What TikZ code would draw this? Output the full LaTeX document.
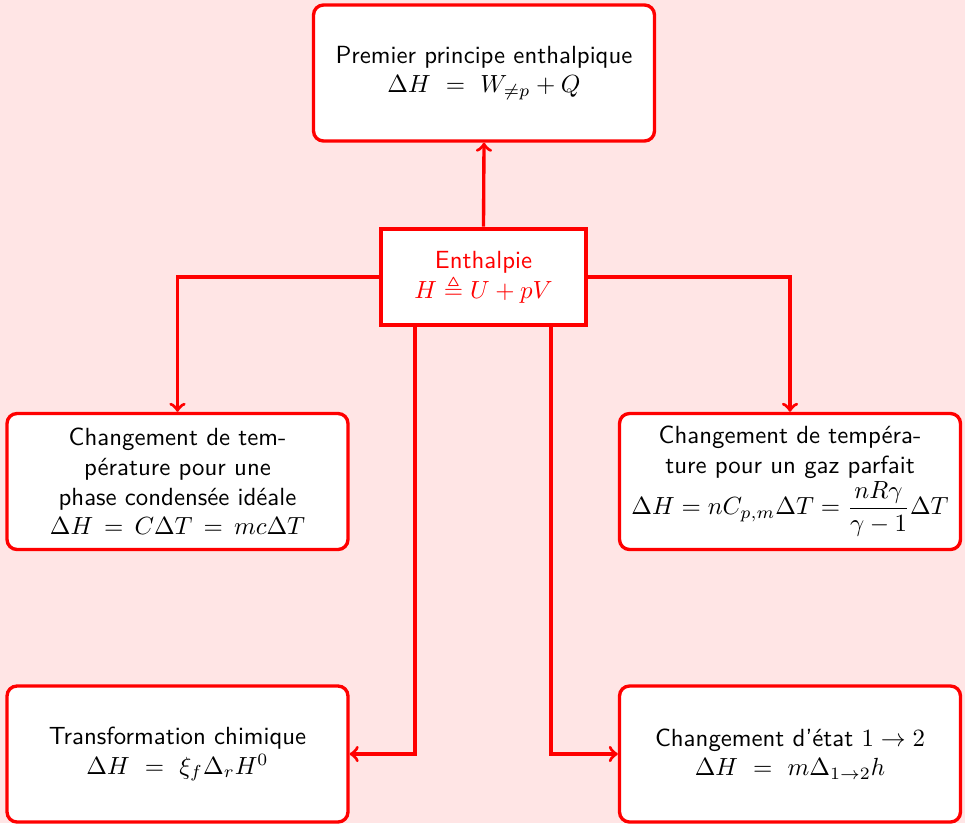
\documentclass[tikz,border=0pt]{standalone}
\usepackage{amsmath,amssymb}
\usetikzlibrary{calc}
\begin{document}
\begin{tikzpicture}[x=0.403pt,y=-0.403pt,
  box/.style={draw=red,fill=white,line width=1.35pt,rounded corners=4pt,
    align=center,font=\sffamily,minimum width=137.4pt,minimum height=54.8pt,inner sep=0pt},
  mainbox/.style={draw=red,fill=white,line width=1.9pt,align=center,font=\sffamily,
    text=red,minimum width=82.6pt,minimum height=38.7pt,inner sep=0pt},
  arr/.style={draw=red,line width=1.35pt,->}]
\fill[red!10] (0,0) rectangle (965,823);
\useasboundingbox (0,0) rectangle (965,823);
\node[box] (top) at (484,73) {Premier principe enthalpique\\$\Delta H\ =\ W_{\neq p}+Q$};
\node[mainbox] (enth) at (483.5,277) {Enthalpie\\$H\triangleq U+pV$};
\node[box] (lm) at (177.5,481.5) {Changement de tem-\\pérature pour une\\phase condensée idéale\\$\Delta H\,=\,C\Delta T\,=\,mc\Delta T$};
\node[box] (rm) at (790,481.5) {Changement de tempéra-\\ture pour un gaz parfait\\$\Delta H=nC_{p,m}\Delta T=\dfrac{nR\gamma}{\gamma-1}\Delta T$};
\node[box] (bl) at (177.5,754) {Transformation chimique\\$\Delta H\ =\ \xi_f\Delta_r H^0$};
\node[box] (br) at (790,754) {Changement d’état $1\to2$\\$\Delta H\ =\ m\Delta_{1\to2}h$};
\draw[arr] (enth.north) -- (top.south);
\draw[arr] (enth.west) -| (lm.north);
\draw[arr] (enth.east) -| (rm.north);
\draw[arr] ($(enth.south)+(-68.5,0)$) |- (bl.east);
\draw[arr] ($(enth.south)+(67.5,0)$) |- (br.west);
\end{tikzpicture}
\end{document}
